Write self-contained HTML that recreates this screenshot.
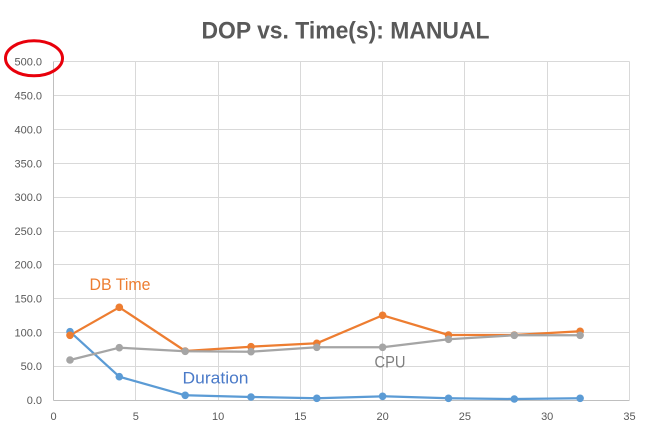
<!DOCTYPE html>
<html><head><meta charset="utf-8"><style>
html,body{margin:0;padding:0;background:#fff;}
svg{display:block;}
</style></head><body>
<svg width="650" height="429" viewBox="0 0 650 429" xmlns="http://www.w3.org/2000/svg" font-family="'Liberation Sans', sans-serif">
<rect width="650" height="429" fill="#fff"/>
<text x="345.5" y="38.3" font-size="24" font-weight="bold" fill="#595959" text-anchor="middle" textLength="288" lengthAdjust="spacingAndGlyphs">DOP vs. Time(s): MANUAL</text>
<g stroke="#d9d9d9" stroke-width="1" fill="none">
<line x1="53.5" y1="61.5" x2="629.5" y2="61.5"/>
<line x1="53.5" y1="95.5" x2="629.5" y2="95.5"/>
<line x1="53.5" y1="129.5" x2="629.5" y2="129.5"/>
<line x1="53.5" y1="163.5" x2="629.5" y2="163.5"/>
<line x1="53.5" y1="197.5" x2="629.5" y2="197.5"/>
<line x1="53.5" y1="231.5" x2="629.5" y2="231.5"/>
<line x1="53.5" y1="264.5" x2="629.5" y2="264.5"/>
<line x1="53.5" y1="298.5" x2="629.5" y2="298.5"/>
<line x1="53.5" y1="332.5" x2="629.5" y2="332.5"/>
<line x1="53.5" y1="366.5" x2="629.5" y2="366.5"/>
<line x1="135.5" y1="61.5" x2="135.5" y2="400"/>
<line x1="218.5" y1="61.5" x2="218.5" y2="400"/>
<line x1="300.5" y1="61.5" x2="300.5" y2="400"/>
<line x1="382.5" y1="61.5" x2="382.5" y2="400"/>
<line x1="464.5" y1="61.5" x2="464.5" y2="400"/>
<line x1="547.5" y1="61.5" x2="547.5" y2="400"/>
<line x1="629.5" y1="61.5" x2="629.5" y2="400"/>
</g>
<g stroke="#bfbfbf" stroke-width="1">
<line x1="53.5" y1="61.5" x2="53.5" y2="400.5"/>
<line x1="53.5" y1="400.5" x2="629.5" y2="400.5"/>
</g>
<g font-size="11" fill="#595959" text-anchor="end">
<text x="42" y="65.5">500.0</text>
<text x="42" y="99.5">450.0</text>
<text x="42" y="133.5">400.0</text>
<text x="42" y="167.5">350.0</text>
<text x="42" y="201">300.0</text>
<text x="42" y="235">250.0</text>
<text x="42" y="268.5">200.0</text>
<text x="42" y="302.5">150.0</text>
<text x="42" y="336.5">100.0</text>
<text x="42" y="370">50.0</text>
<text x="42" y="404">0.0</text>
</g>
<g font-size="11" fill="#595959" text-anchor="middle">
<text x="53.5" y="420">0</text>
<text x="135.8" y="420">5</text>
<text x="218.1" y="420">10</text>
<text x="300.4" y="420">15</text>
<text x="382.6" y="420">20</text>
<text x="464.9" y="420">25</text>
<text x="547.2" y="420">30</text>
<text x="629.5" y="420">35</text>
</g>
<g fill="none" stroke-width="2.25" stroke-linejoin="round">
<polyline stroke="#5b9bd5" points="70,331.7 119.3,376.7 185.2,395.3 251,397 316.8,398.3 382.6,396.3 448.5,398.3 514.3,399 580.1,398.3"/>
<polyline stroke="#ed7d31" points="70,335.3 119.3,307.3 185.2,351 251,346.7 316.8,343.3 382.6,315.3 448.5,335 514.3,335 580.1,331.3"/>
<polyline stroke="#a5a5a5" points="70,360 119.3,347.7 185.2,351.3 251,351.7 316.8,347.3 382.6,347.3 448.5,339.3 514.3,335.3 580.1,335.3"/>
</g>
<g fill="#5b9bd5">
<circle cx="70" cy="331.7" r="3.8"/><circle cx="119.3" cy="376.7" r="3.8"/><circle cx="185.2" cy="395.3" r="3.8"/><circle cx="251" cy="397" r="3.8"/><circle cx="316.8" cy="398.3" r="3.8"/><circle cx="382.6" cy="396.3" r="3.8"/><circle cx="448.5" cy="398.3" r="3.8"/><circle cx="514.3" cy="399" r="3.8"/><circle cx="580.1" cy="398.3" r="3.8"/>
</g>
<g fill="#ed7d31">
<circle cx="70" cy="335.3" r="3.8"/><circle cx="119.3" cy="307.3" r="3.8"/><circle cx="185.2" cy="351" r="3.8"/><circle cx="251" cy="346.7" r="3.8"/><circle cx="316.8" cy="343.3" r="3.8"/><circle cx="382.6" cy="315.3" r="3.8"/><circle cx="448.5" cy="335" r="3.8"/><circle cx="514.3" cy="335" r="3.8"/><circle cx="580.1" cy="331.3" r="3.8"/>
</g>
<g fill="#a5a5a5">
<circle cx="70" cy="360" r="3.8"/><circle cx="119.3" cy="347.7" r="3.8"/><circle cx="185.2" cy="351.3" r="3.8"/><circle cx="251" cy="351.7" r="3.8"/><circle cx="316.8" cy="347.3" r="3.8"/><circle cx="382.6" cy="347.3" r="3.8"/><circle cx="448.5" cy="339.3" r="3.8"/><circle cx="514.3" cy="335.3" r="3.8"/><circle cx="580.1" cy="335.3" r="3.8"/>
</g>
<text x="89.5" y="290" font-size="17" fill="#ed7d31" textLength="61" lengthAdjust="spacingAndGlyphs">DB Time</text>
<text x="182.5" y="383.3" font-size="17" fill="#4a7ac8" textLength="66" lengthAdjust="spacingAndGlyphs">Duration</text>
<text x="374.5" y="367.3" font-size="17" fill="#7f7f7f" textLength="31" lengthAdjust="spacingAndGlyphs">CPU</text>
<ellipse cx="34" cy="58.3" rx="28.5" ry="17.5" fill="none" stroke="#e8000b" stroke-width="3"/>
</svg>
</body></html>
